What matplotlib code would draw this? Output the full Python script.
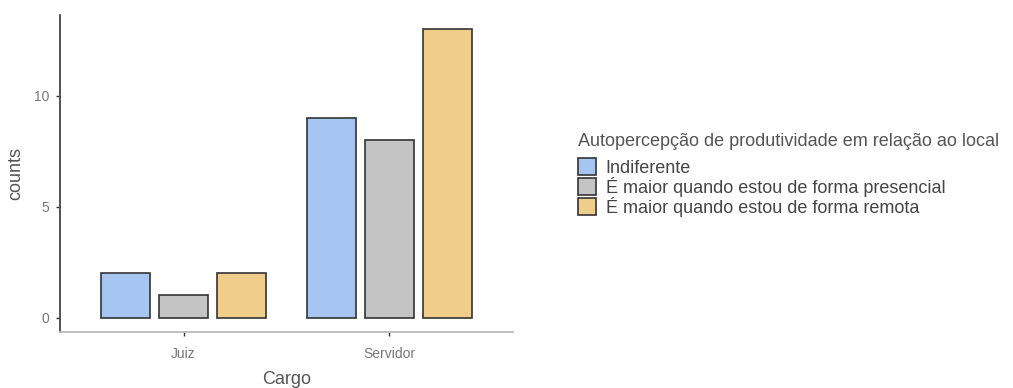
import matplotlib
matplotlib.use("Agg")
import matplotlib.pyplot as plt
from matplotlib.patches import Patch
import numpy as np

plt.rcParams['font.family'] = ['Liberation Sans', 'DejaVu Sans']

categories = ["Juiz", "Servidor"]
groups = ["Indiferente",
          "É maior quando estou de forma presencial",
          "É maior quando estou de forma remota"]
values = {
    "Indiferente": [2, 9],
    "É maior quando estou de forma presencial": [1, 8],
    "É maior quando estou de forma remota": [2, 13],
}
colors = ["#A7C5F1", "#C4C4C4", "#F1CD8C"]
legend_title = "Autopercepção de produtividade em relação ao local"

fig = plt.figure(figsize=(10.13, 3.88), dpi=100)
ax = fig.add_axes([60/1013, 1-332/388, (513-60)/1013, (332-15)/388])

x = np.arange(1, len(categories)+1)
step = 0.28
width = 0.237
for i, g in enumerate(groups):
    ax.bar(x + (i-1)*step, values[g], width=width, color=colors[i],
           edgecolor="#333333", linewidth=1.2, zorder=3)

ax.set_xlim(0.4, 2.6)
ax.set_ylim(-0.65, 13.65)
ax.set_xticks(x)
ax.set_xticklabels(categories)
ax.set_yticks([0, 5, 10])
ax.tick_params(axis='both', colors="#333333", labelcolor="#777777", labelsize=10,
               length=3, width=1)
ax.tick_params(axis='x', pad=8)
ax.tick_params(axis='y', pad=5)
for s in ["top", "right"]:
    ax.spines[s].set_visible(False)
ax.spines["left"].set_color("#444444")
ax.spines["left"].set_linewidth(1.3)
ax.spines["bottom"].set_color("#BBBBBB")
ax.spines["bottom"].set_linewidth(1.3)
ax.set_xlabel("Cargo", fontsize=13, color="#555555", labelpad=7)
ax.set_ylabel("counts", fontsize=13, color="#555555", labelpad=7)

# legend title as separate text, legend entries below
fig.text(578/1013, 1-142/388, legend_title, fontsize=13, color="#555555",
         ha="left", va="center")
handles = [Patch(facecolor=colors[i], edgecolor="#333333", linewidth=1.2) for i in range(3)]
leg = fig.legend(handles, groups, loc="upper left",
                 bbox_to_anchor=(578/1013, 1-158/388), frameon=False,
                 fontsize=13, alignment="left",
                 handlelength=0.98, handleheight=1.08, labelspacing=0.0,
                 handletextpad=0.55, borderaxespad=0, borderpad=0)
for t in leg.get_texts():
    t.set_color("#444444")

fig.savefig("out.png", dpi=100)
